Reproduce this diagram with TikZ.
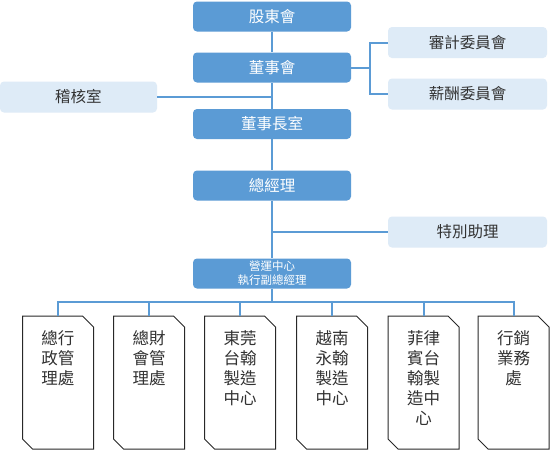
\documentclass[tikz,border=0pt]{standalone}
\usepackage{fontspec}
\newfontfamily\cjk{Noto Sans CJK TC}
\definecolor{dkblue}{RGB}{91,155,213}
\definecolor{ltblue}{RGB}{222,235,247}
\definecolor{txt}{RGB}{50,50,50}
\definecolor{edge}{RGB}{40,40,40}
\begin{document}
\begin{tikzpicture}[x=1pt,y=-1pt,
  dark/.style={fill=dkblue, text=white, rounded corners=4pt, minimum width=158pt, minimum height=30pt, inner sep=0pt, font=\cjk\fontsize{15.5}{18}\selectfont},
  light/.style={fill=ltblue, text=txt, rounded corners=4pt, minimum width=159pt, minimum height=31pt, inner sep=0pt, font=\cjk\fontsize{15.5}{18}\selectfont},
  small/.style={font=\cjk\fontsize{11.5}{14}\selectfont, align=center},
  link/.style={draw=dkblue, line width=2pt},
  dept/.style={draw=none, minimum width=71pt, minimum height=133pt, inner sep=0pt, outer sep=0pt},
  depttext/.style={anchor=north, inner sep=0pt, align=center, text=txt, font=\cjk\fontsize{16.5}{20}\selectfont},
  deptline/.style={draw=edge, line width=1pt, line join=miter}
]
\useasboundingbox[fill=white] (0,0) rectangle (550,450);

% main chain
\node[dark] (gd) at (272,16.5) {股東會};
\node[dark] (board) at (272,67.5) {董事會};
\node[dark] (chair) at (272,124) {董事長室};
\node[dark] (gm) at (272,185.5) {總經理};
\node[dark, small] (ops) at (272,273.5) {營運中心\\執行副總經理};

% side boxes
\node[light] (audit) at (467.5,42.5) {審計委員會};
\node[light] (pay) at (467.5,94) {薪酬委員會};
\node[light, minimum width=157pt] (check) at (78.5,97) {稽核室};
\node[light] (assist) at (467.5,232) {特別助理};

% bottom departments
\node[dept] (b1) at (58,382.5) {};
\node[dept] (b2) at (149,382.5) {};
\node[dept] (b3) at (240,382.5) {};
\node[dept] (b4) at (332,382.5) {};
\node[dept] (b5) at (423.5,382.5) {};
\node[dept] (b6) at (513.5,382.5) {};
\foreach \n in {b1,b2,b3,b4,b5,b6}
  \draw[deptline] (\n.north west) -- ([xshift=-11pt]\n.north east) -- ([yshift=-11pt]\n.north east) -- (\n.south east) -- ([xshift=10pt]\n.south west) -- ([yshift=10pt]\n.south west) -- cycle;
\node[depttext] (t1) at ([yshift=-14pt]b1.north) {總行\\政管\\理處};
\node[depttext] (t2) at ([yshift=-14pt]b2.north) {總財\\會管\\理處};
\node[depttext] (t3) at ([yshift=-14pt]b3.north) {東莞\\台翰\\製造\\中心};
\node[depttext] (t4) at ([yshift=-14pt]b4.north) {越南\\永翰\\製造\\中心};
\node[depttext] (t5) at ([yshift=-14pt]b5.north) {菲律\\賓台\\翰製\\造中\\心};
\node[depttext] (t6) at ([yshift=-14pt]b6.north) {行銷\\業務\\處};

% connectors
\draw[link] (gd) -- (board);
\draw[link] (board) -- (chair);
\draw[link] (chair) -- (gm);
\draw[link] (gm) -- (ops);
\coordinate (jc) at (272,97);
\draw[link] (check.east) -- (jc);
\coordinate (ja) at (272,232);
\draw[link] (ja) -- (assist.west);
\coordinate (br) at (370,67.5);
\draw[link] (board.east) -- (br);
\draw[link] (audit.west) -| (br) |- (pay.west);
\coordinate (bus) at (272,302);
\draw[link] (ops) -- (bus);
\draw[link] (b1.north) -- (b1.north |- bus) -- (b6.north |- bus) -- (b6.north);
\foreach \n in {b2,b3,b4,b5}
  \draw[link] (\n.north) -- (\n.north |- bus);
\end{tikzpicture}
\end{document}
